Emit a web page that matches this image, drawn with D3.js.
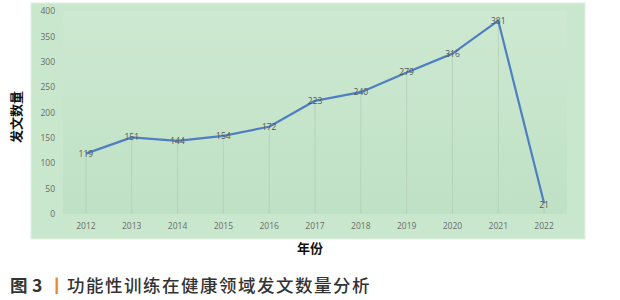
<!DOCTYPE html>
<html><head><meta charset="utf-8">
<script src="https://cdn.jsdelivr.net/npm/d3@7"></script>
<style>body{margin:0;background:#fff}svg{display:block}</style>
</head><body><svg id="c" width="620" height="300"></svg>
<script>
const years = ["2012","2013","2014","2015","2016","2017","2018","2019","2020","2021","2022"];
const counts = [119,151,144,154,172,223,240,279,316,381,21];
const yTicks = [0,50,100,150,200,250,300,350,400];

const svg = d3.select("#c");
const defs = svg.append("defs");
const g1 = defs.append("linearGradient").attr("id","pg").attr("x1",0).attr("y1",0).attr("x2",0).attr("y2",1);
g1.append("stop").attr("offset","0%").attr("stop-color","#cde9d1");
g1.append("stop").attr("offset","100%").attr("stop-color","#bfe1c5");

// outer frame
svg.append("rect").attr("x",31).attr("y",3).attr("width",554).attr("height",236)
  .attr("fill","#c9e7cd").attr("stroke","#e2efe3").attr("stroke-width",1);

const x = d3.scaleBand().domain(years).range([63,567]);
const y = d3.scaleLinear().domain([0,400]).range([214,11]);

svg.append("rect").attr("x",63).attr("y",y(400)).attr("width",504).attr("height",y(0)-y(400))
  .attr("fill","url(#pg)");

const cx = d => x(d) + x.bandwidth()/2;

// drop lines
svg.append("g").selectAll("line").data(years).join("line")
  .attr("x1",(d)=>cx(d)).attr("x2",(d)=>cx(d))
  .attr("y1",(d,i)=>y(counts[i])).attr("y2",y(0))
  .attr("stroke","#b5cdb8").attr("stroke-width",0.8);

// y axis labels
const yAxis = d3.axisLeft(y).tickValues(yTicks).tickSize(0).tickPadding(8);
const ya = svg.append("g").attr("transform","translate(63,0)").call(yAxis);
ya.select(".domain").remove();
ya.selectAll("text").attr("font-family","Open Sans, Liberation Sans, sans-serif").attr("font-size",8.5).attr("fill","#6b6b6b");

// x axis labels
const xAxis = d3.axisBottom(x).tickSize(0).tickPadding(9);
const xa = svg.append("g").attr("transform",`translate(0,${y(0)})`).call(xAxis);
xa.select(".domain").remove();
xa.selectAll("text").attr("font-family","Open Sans, Liberation Sans, sans-serif").attr("font-size",8.5).attr("fill","#6b6b6b");

// line
const line = d3.line().x((d,i)=>cx(years[i])).y(d=>y(d));
svg.append("path").datum(counts).attr("d",line).attr("fill","none")
  .attr("stroke","#4f7fc0").attr("stroke-width",2.2).attr("stroke-linejoin","round");

// data labels
svg.append("g").selectAll("text").data(counts).join("text")
  .attr("x",(d,i)=>cx(years[i])).attr("y",(d,i)=>y(d)+ (i===10 ? 2 : 0)).attr("dy","0.35em")
  .attr("text-anchor","middle").attr("font-family","Open Sans, Liberation Sans, sans-serif")
  .attr("font-size",8.5).attr("fill","#555").text(d=>d);

// axis titles
svg.append("text").attr("transform","translate(16,117) rotate(-90)").attr("text-anchor","middle")
  .attr("dy","0.35em").attr("font-family","Noto Sans CJK SC, sans-serif").attr("font-weight","bold")
  .attr("font-size",13).attr("fill","#111").text("发文数量");
svg.append("text").attr("x",310).attr("y",248).attr("text-anchor","middle").attr("dy","0.35em")
  .attr("font-family","Noto Sans CJK SC, sans-serif").attr("font-weight","bold")
  .attr("font-size",13).attr("fill","#111").text("年份");

// caption
const cap = svg.append("text").attr("y",292).attr("font-family","Noto Sans CJK SC, sans-serif")
  .attr("font-size",17.5).attr("fill","#333");
cap.append("tspan").attr("x",10).attr("font-weight","bold").text("图");
cap.append("tspan").attr("x",32).attr("font-weight","bold").text("3");
cap.append("tspan").attr("x",48).attr("fill","#e38a2c").attr("font-weight","bold").text("丨");
cap.append("tspan").attr("x",67).attr("font-weight","500").attr("letter-spacing",1.5).text("功能性训练在健康领域发文数量分析");
</script></body></html>
